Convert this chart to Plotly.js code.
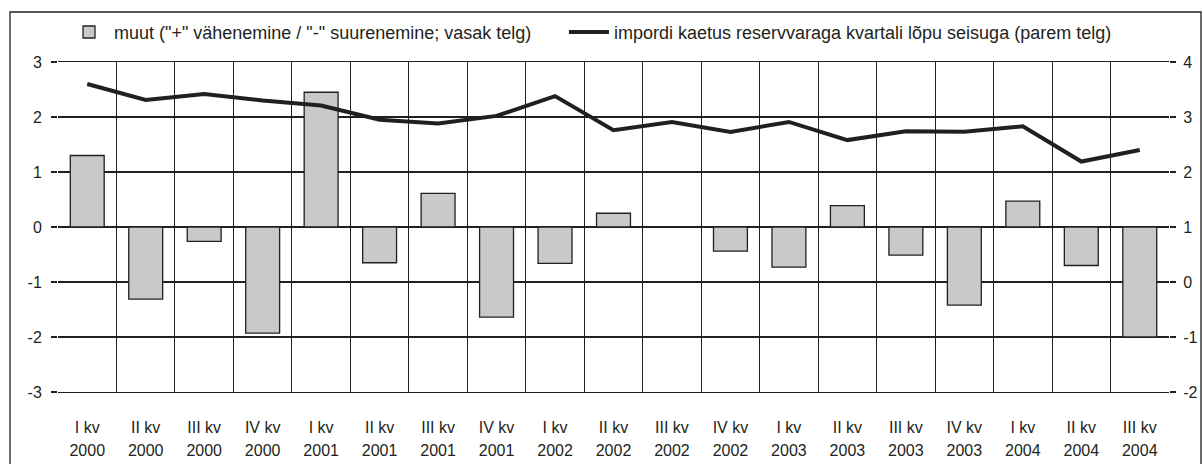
<!DOCTYPE html>
<html>
<head>
<meta charset="utf-8">
<script src="https://cdn.plot.ly/plotly-3.0.1.min.js"></script>
<style>html,body{margin:0;padding:0;background:#fff;}#chart{width:1203px;height:464px;}</style>
</head>
<body>
<div id="chart"></div>
<script>
var quarters = ["I kv","II kv","III kv","IV kv","I kv","II kv","III kv","IV kv","I kv","II kv","III kv","IV kv","I kv","II kv","III kv","IV kv","I kv","II kv","III kv"];
var years = ["2000","2000","2000","2000","2001","2001","2001","2001","2002","2002","2002","2002","2003","2003","2003","2003","2004","2004","2004"];
var muut = [1.30,-1.31,-0.26,-1.93,2.45,-0.65,0.61,-1.64,-0.66,0.25,0,-0.44,-0.73,0.39,-0.51,-1.42,0.47,-0.70,-2.00];
var kaetus = [3.60,3.31,3.42,3.30,3.21,2.95,2.88,3.02,3.38,2.76,2.91,2.73,2.91,2.58,2.74,2.73,2.83,2.19,2.40];
var leftTicks = [-3,-2,-1,0,1,2,3];
var leftTickText = ["-3","-2","-1","0","1","2","3"];
var rightTicks = [-2,-1,0,1,2,3,4];
var rightTickText = ["-2","-1","0","1","2","3","4"];
var barName = 'muut ("+" vähenemine / "-" suurenemine; vasak telg)';
var lineName = 'impordi kaetus reservvaraga kvartali lõpu seisuga (parem telg)';

var cats = quarters.map(function(q,i){return q+" "+years[i];});
var ink = '#231f20';
var fam = '"Liberation Sans", Arial, sans-serif';
var fnt = {family:fam, size:16, color:ink};
var legFnt = {family:fam, size:18, color:ink};

var traces = [
  {type:'bar', x:cats, y:muut, name:barName, xaxis:'x', yaxis:'y', legend:'legend',
   marker:{color:'#c8c9cb', line:{color:ink, width:muut.map(function(v){return v===0?0:1.3;})}}, width:0.58},
  {type:'scatter', mode:'lines', x:cats, y:kaetus, name:lineName, xaxis:'x2', yaxis:'y2', legend:'legend2',
   line:{color:ink, width:4}}
];

var layout = {
  width:1203, height:464,
  margin:{l:58, r:34, t:62, b:72},
  paper_bgcolor:'#fff', plot_bgcolor:'#fff',
  font:fnt,
  showlegend:true,
  legend:{orientation:'h', x:0.0054, xanchor:'left', y:1.09, yanchor:'middle',
          font:legFnt, bgcolor:'rgba(0,0,0,0)', itemwidth:40},
  legend2:{orientation:'h', x:0.4554, xanchor:'left', y:1.09, yanchor:'middle',
          font:legFnt, bgcolor:'rgba(0,0,0,0)', itemwidth:40},
  bargap:0.42,
  xaxis:{type:'category', tickmode:'array', tickvals:cats, ticktext:quarters,
         showgrid:true, gridcolor:ink, gridwidth:1, tickson:'boundaries',
         ticks:'', showline:true, mirror:true, linecolor:ink, linewidth:1.3,
         zeroline:false, tickfont:fnt, ticklabelstandoff:20},
  xaxis2:{type:'category', overlaying:'x', side:'bottom', anchor:'y', matches:'x',
          tickmode:'array', tickvals:cats, ticktext:years,
          showgrid:false, ticks:'', showline:false, zeroline:false, tickfont:fnt, ticklabelstandoff:47},
  yaxis:{range:[-3,3], tickmode:'array', tickvals:leftTicks, ticktext:leftTickText,
         showgrid:true, gridcolor:ink, gridwidth:1.3,
         zeroline:false, showline:false, ticks:'outside', ticklen:6, tickcolor:ink, tickwidth:1.3,
         tickfont:fnt, ticklabelstandoff:6},
  yaxis2:{range:[-2,4], tickmode:'array', tickvals:rightTicks, ticktext:rightTickText,
          overlaying:'y', side:'right', anchor:'x',
          showgrid:false, zeroline:false, showline:false, ticks:'outside', ticklen:6,
          tickcolor:ink, tickwidth:1.3, tickfont:fnt, ticklabelstandoff:4},
  shapes:[
    {type:'rect', xref:'paper', yref:'paper', x0:-0.0432, x1:1.0288, y0:-0.3, y1:1.1515,
     line:{color:ink, width:1.3}, fillcolor:'rgba(0,0,0,0)', layer:'below'}
  ]
};

Plotly.newPlot('chart', traces, layout, {displayModeBar:false, staticPlot:true});
</script>
</body>
</html>
